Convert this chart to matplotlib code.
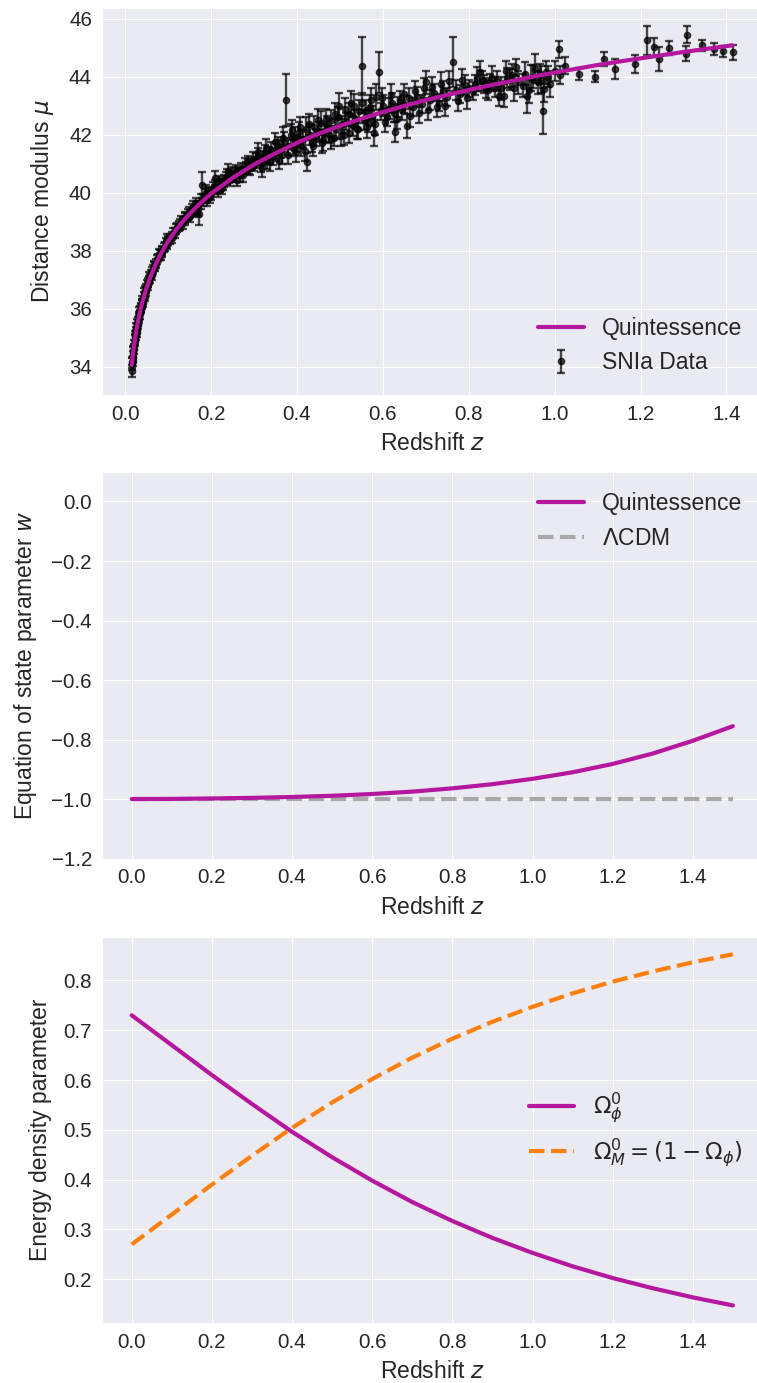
import numpy as np
import matplotlib
matplotlib.use('Agg')
import matplotlib.pyplot as plt
import seaborn as sns

sns.set_style('darkgrid')
plt.rcParams['font.family'] = ['Liberation Sans', 'DejaVu Sans']

# SNIa data (redshift, distance modulus, error)
z_sn = [0.015, 0.016, 0.017, 0.018, 0.019, 0.021, 0.022, 0.023, 0.024, 0.025,
        0.026, 0.027, 0.028, 0.029, 0.031, 0.032, 0.033, 0.034, 0.036, 0.037,
        0.038, 0.040, 0.041, 0.043, 0.045, 0.047, 0.049, 0.051, 0.053, 0.055,
        0.058, 0.060, 0.063, 0.065, 0.068, 0.070, 0.074, 0.077, 0.080, 0.083,
        0.086, 0.090, 0.094, 0.097, 0.100,
        0.105, 0.110, 0.115, 0.120, 0.125, 0.130, 0.135, 0.140, 0.145, 0.150,
        0.155, 0.160, 0.165, 0.170, 0.172, 0.178, 0.180, 0.185, 0.190, 0.195,
        0.200, 0.205, 0.210, 0.215, 0.220, 0.225, 0.230, 0.235, 0.240, 0.245,
        0.250, 0.255, 0.260, 0.265, 0.270, 0.275, 0.280, 0.285, 0.290, 0.295,
        0.300,
        0.305, 0.310, 0.315, 0.320, 0.325, 0.330, 0.335, 0.340, 0.345, 0.350,
        0.355, 0.360, 0.365, 0.370, 0.374, 0.380, 0.385, 0.390, 0.395, 0.400,
        0.405, 0.410, 0.415, 0.420, 0.424, 0.430, 0.435, 0.440, 0.445, 0.450,
        0.455, 0.460, 0.465, 0.470, 0.475, 0.480, 0.485, 0.490, 0.495, 0.498,
        0.505, 0.510, 0.515, 0.520, 0.525, 0.530, 0.535, 0.540, 0.545, 0.551,
        0.556, 0.560, 0.565, 0.570, 0.575, 0.580, 0.585, 0.591, 0.595, 0.600,
        0.610, 0.615, 0.620, 0.625, 0.629, 0.635, 0.640, 0.645, 0.650, 0.657,
        0.660, 0.670, 0.680, 0.690, 0.700, 0.710, 0.720, 0.730, 0.740, 0.750,
        0.764, 0.770, 0.780, 0.790, 0.800,
        0.810, 0.818, 0.827, 0.835, 0.840, 0.850, 0.860, 0.871, 0.881, 0.886,
        0.895, 0.905, 0.910, 0.925, 0.935, 0.945, 0.954, 0.960, 0.965, 0.972,
        0.975, 0.985, 1.000, 1.011, 1.013, 1.023, 1.057, 1.094, 1.115, 1.140,
        1.188, 1.215, 1.232, 1.242, 1.266, 1.305, 1.308, 1.344, 1.372, 1.393,
        1.415]
mu_sn = [33.85, 34.15, 34.20, 34.50, 34.50, 34.75, 34.95, 34.90, 35.20, 35.10,
         35.35, 35.30, 35.50, 35.45, 35.75, 35.65, 35.90, 35.80, 36.05, 36.00,
         36.20, 36.30, 36.20, 36.45, 36.40, 36.65, 36.70, 36.85, 36.80, 37.00,
         37.05, 37.20, 37.30, 37.35, 37.50, 37.45, 37.70, 37.75, 37.85, 37.85,
         38.00, 38.10, 38.25, 38.20, 38.35,
         38.40, 38.60, 38.60, 38.80, 38.85, 39.00, 38.95, 39.15, 39.25, 39.20,
         39.40, 39.35, 39.60, 39.45, 39.25, 40.25, 39.75, 39.90, 39.75, 40.00,
         39.95, 40.15, 40.50, 40.05, 40.25, 40.15, 40.40, 40.50, 40.75, 40.45,
         40.55, 40.60, 40.45, 40.70, 40.80, 40.60, 40.85, 41.05, 40.85, 41.00,
         40.95,
         41.10, 41.25, 41.00, 41.20, 41.35, 41.10, 41.30, 41.45, 41.25, 41.40,
         41.60, 41.50, 41.30, 41.75, 43.20, 41.60, 42.00, 41.55, 41.90, 41.70,
         42.10, 41.60, 41.85, 42.20, 41.05, 42.00, 41.70, 42.25, 41.90, 42.10,
         42.40, 41.80, 42.05, 42.30, 42.00, 42.50, 41.90, 42.20, 42.60, 43.00,
         42.35, 42.00, 42.45, 42.70, 43.10, 42.30, 42.55, 42.20, 42.80, 44.35,
         42.50, 42.85, 42.40, 42.95, 42.65, 42.07, 43.30, 44.15, 42.80, 43.00,
         42.60, 42.90, 43.10, 42.75, 42.10, 42.95, 43.20, 42.85, 43.05, 42.30,
         43.25, 42.95, 43.30, 43.05, 43.80, 43.20, 43.45, 43.10, 43.50, 43.30,
         44.50, 43.55, 43.40, 43.70, 43.60,
         43.50, 43.92, 44.15, 43.75, 43.60, 43.80, 43.65, 43.34, 43.34, 44.20,
         43.90, 43.62, 44.32, 43.69, 43.34, 43.95, 44.27, 43.80, 44.10, 42.82,
         43.57, 44.00, 44.20, 44.94, 44.06, 44.38, 44.09, 44.00, 44.61, 44.27,
         44.44, 45.25, 45.02, 44.61, 44.98, 44.79, 45.45, 45.08, 44.96, 44.87,
         44.84]
err_sn = [0.22, 0.20, 0.18, 0.20, 0.18, 0.17, 0.18, 0.20, 0.16, 0.17,
          0.16, 0.17, 0.16, 0.15, 0.15, 0.16, 0.15, 0.15, 0.15, 0.16,
          0.14, 0.15, 0.15, 0.14, 0.15, 0.14, 0.15, 0.14, 0.15, 0.14,
          0.15, 0.14, 0.15, 0.14, 0.15, 0.16, 0.15, 0.15, 0.16, 0.16,
          0.15, 0.16, 0.17, 0.16, 0.17,
          0.16, 0.17, 0.18, 0.17, 0.18, 0.18, 0.20, 0.18, 0.20, 0.20,
          0.20, 0.20, 0.20, 0.25, 0.35, 0.45, 0.20, 0.22, 0.22, 0.20,
          0.22, 0.20, 0.25, 0.20, 0.22, 0.20, 0.22, 0.20, 0.25, 0.22,
          0.20, 0.25, 0.22, 0.20, 0.22, 0.25, 0.20, 0.22, 0.25, 0.20,
          0.22,
          0.25, 0.30, 0.28, 0.25, 0.30, 0.30, 0.28, 0.30, 0.30, 0.30,
          0.32, 0.30, 0.30, 0.35, 0.90, 0.30, 0.35, 0.30, 0.35, 0.30,
          0.35, 0.32, 0.30, 0.40, 0.30, 0.35, 0.30, 0.40, 0.30, 0.35,
          0.40, 0.35, 0.30, 0.35, 0.30, 0.35, 0.30, 0.35, 0.35, 0.45,
          0.30, 0.35, 0.30, 0.40, 0.40, 0.35, 0.30, 0.35, 0.40, 1.00,
          0.35, 0.35, 0.30, 0.40, 0.35, 0.45, 0.45, 0.70, 0.30, 0.35,
          0.30, 0.35, 0.35, 0.30, 0.35, 0.35, 0.30, 0.35, 0.30, 0.40,
          0.35, 0.30, 0.35, 0.30, 0.40, 0.35, 0.30, 0.30, 0.35, 0.30,
          0.85, 0.35, 0.30, 0.35, 0.30,
          0.30, 0.40, 0.40, 0.30, 0.35, 0.30, 0.35, 0.35, 0.40, 0.35,
          0.35, 0.45, 0.30, 0.40, 0.60, 0.45, 0.50, 0.40, 0.35, 0.80,
          0.45, 0.35, 0.35, 0.30, 0.30, 0.30, 0.20, 0.20, 0.25, 0.35,
          0.30, 0.50, 0.30, 0.40, 0.25, 0.25, 0.30, 0.20, 0.20, 0.20,
          0.25]

# more supernovae filling the dense parts of the cloud
z_sn2 = [0.0155, 0.0175, 0.0205, 0.0235, 0.0265, 0.030, 0.035, 0.039, 0.044, 0.048,
         0.052, 0.056, 0.062, 0.066, 0.072, 0.078, 0.085, 0.092, 0.098,
         0.108, 0.118, 0.128, 0.138, 0.148, 0.158, 0.168, 0.176, 0.188, 0.198,
         0.208, 0.218, 0.228, 0.238, 0.248, 0.258, 0.268, 0.278, 0.288, 0.298,
         0.308, 0.318, 0.328, 0.338, 0.348, 0.358, 0.368, 0.378, 0.388, 0.398,
         0.408, 0.418, 0.428, 0.438, 0.448, 0.458, 0.468, 0.478, 0.488, 0.502,
         0.512, 0.522, 0.532, 0.542, 0.552, 0.562, 0.572, 0.582, 0.598, 0.605,
         0.618, 0.632, 0.648, 0.662, 0.675, 0.685, 0.695, 0.705, 0.715, 0.725,
         0.735, 0.745, 0.755, 0.775, 0.785, 0.795,
         0.815, 0.830, 0.845, 0.855, 0.865, 0.875, 0.890, 0.900, 0.915, 0.930,
         0.940, 0.950, 0.968, 0.980, 0.990]
mu_sn2 = [34.10, 34.35, 34.60, 35.05, 35.20, 35.55, 35.95, 36.15, 36.55, 36.60,
          36.90, 37.10, 37.15, 37.45, 37.55, 37.90, 37.95, 38.15, 38.40,
          38.45, 38.75, 38.90, 39.10, 39.30, 39.50, 39.50, 39.70, 40.00, 39.85,
          40.20, 40.35, 40.30, 40.55, 40.65, 40.75, 40.60, 40.95, 40.90, 41.15,
          41.40, 40.85, 41.55, 41.05, 41.75, 41.10, 41.90, 41.30, 42.15, 41.40,
          42.25, 41.45, 42.35, 41.60, 42.50, 41.70, 42.55, 41.85, 42.70, 41.95,
          42.90, 42.05, 43.00, 42.20, 43.10, 42.25, 43.20, 42.35, 43.25, 42.45,
          43.35, 42.55, 43.40, 42.65, 43.50, 42.75, 43.60, 42.85, 43.65, 42.95,
          43.75, 43.00, 43.85, 43.15, 43.90, 43.25,
          43.70, 43.85, 43.55, 43.95, 43.85, 43.60, 43.95, 44.05, 43.80, 44.10,
          43.55, 44.00, 43.90, 44.15, 43.75]
err_sn2 = [0.20, 0.20, 0.18, 0.17, 0.16, 0.16, 0.15, 0.15, 0.15, 0.15,
           0.15, 0.15, 0.15, 0.15, 0.15, 0.16, 0.16, 0.16, 0.17,
           0.18, 0.18, 0.18, 0.20, 0.20, 0.20, 0.22, 0.25, 0.25, 0.22,
           0.22, 0.22, 0.22, 0.25, 0.22, 0.22, 0.25, 0.25, 0.25, 0.25,
           0.30, 0.30, 0.30, 0.30, 0.30, 0.30, 0.35, 0.30, 0.35, 0.35,
           0.35, 0.35, 0.35, 0.35, 0.40, 0.35, 0.35, 0.35, 0.40, 0.35,
           0.35, 0.35, 0.40, 0.35, 0.35, 0.35, 0.40, 0.35, 0.35, 0.35,
           0.40, 0.35, 0.35, 0.40, 0.35, 0.35, 0.35, 0.35, 0.35, 0.35,
           0.40, 0.35, 0.35, 0.35, 0.35, 0.35,
           0.35, 0.35, 0.35, 0.40, 0.35, 0.40, 0.35, 0.40, 0.40, 0.40,
           0.45, 0.40, 0.45, 0.40, 0.45]

# best-fit quintessence distance modulus
z_fit = [0.015, 0.02, 0.025, 0.03, 0.035, 0.04, 0.045, 0.05, 0.06, 0.07,
         0.08, 0.09, 0.10, 0.12, 0.14, 0.15, 0.17, 0.20, 0.25, 0.30,
         0.35, 0.40, 0.45, 0.50, 0.55, 0.60, 0.65, 0.70, 0.75, 0.80,
         0.85, 0.90, 0.95, 1.00, 1.05, 1.10, 1.15, 1.20, 1.25, 1.30,
         1.35, 1.414]
mu_fit = [34.06, 34.70, 35.19, 35.60, 35.94, 36.24, 36.50, 36.74, 37.15, 37.50,
          37.81, 38.08, 38.33, 38.75, 39.11, 39.27, 39.57, 39.97, 40.51, 40.97,
          41.36, 41.72, 42.03, 42.30, 42.55, 42.78, 42.99, 43.19, 43.37, 43.54,
          43.70, 43.85, 44.00, 44.14, 44.27, 44.40, 44.52, 44.63, 44.74, 44.85,
          44.95, 45.08]

# equation of state and density parameters
z_grid = [0.0, 0.1, 0.2, 0.3, 0.4, 0.5, 0.6, 0.7, 0.8, 0.9, 1.0, 1.1, 1.2, 1.3, 1.4, 1.5]
w_phi = [-1.0, -0.9995, -0.998, -0.996, -0.993, -0.989, -0.983, -0.975, -0.964,
         -0.950, -0.932, -0.910, -0.882, -0.847, -0.804, -0.755]
w_lcdm = [-1.0] * len(z_grid)
omega_phi = [0.730, 0.670, 0.610, 0.552, 0.496, 0.445, 0.398, 0.355, 0.317,
             0.283, 0.253, 0.226, 0.2025, 0.182, 0.1636, 0.1475]
omega_m = [0.270, 0.330, 0.390, 0.448, 0.504, 0.555, 0.602, 0.645, 0.683,
           0.717, 0.747, 0.774, 0.7975, 0.818, 0.8364, 0.8525]

purple = '#b5179e'
tick_fs = 14.8
label_fs = 16.5
legend_fs = 16.5

fig = plt.figure(figsize=(7.57, 13.83), dpi=100)
left, width = 0.1343, 0.8736
ax1 = fig.add_axes([left, 0.7144, width, 0.2796])
ax2 = fig.add_axes([left, 0.3792, width, 0.2797])
ax3 = fig.add_axes([left, 0.0434, width, 0.2793])

# top panel: Hubble diagram
ax1.errorbar(z_sn + z_sn2, mu_sn + mu_sn2, yerr=err_sn + err_sn2, fmt='o',
             color='black', alpha=0.7, markersize=4.5, capsize=3,
             elinewidth=1.7, capthick=1.7, label='SNIa Data', zorder=2)
ax1.plot(z_fit, mu_fit, color=purple, lw=3, label='Quintessence', zorder=3)
ax1.set_ylabel(r'Distance modulus $\mu$', fontsize=label_fs, labelpad=9)
ax1.legend(loc='lower right', fontsize=legend_fs, frameon=False)

# middle panel: w(z)
ax2.plot(z_grid, w_phi, color=purple, lw=3, label='Quintessence', zorder=3)
ax2.plot(z_grid, w_lcdm, color='darkgray', lw=3, ls='--', label=r'$\Lambda$CDM',
         zorder=2)
ax2.set_ylim(-1.2, 0.1)
ax2.set_ylabel(r'Equation of state parameter $w$', fontsize=label_fs, labelpad=9)
ax2.legend(loc='upper right', fontsize=legend_fs, frameon=False)

# bottom panel: density parameters
ax3.plot(z_grid, omega_phi, color=purple, lw=3, label=r'$\Omega_\phi^0$')
ax3.plot(z_grid, omega_m, color='#ff7f0e', lw=3, ls='--',
         label=r'$\Omega_M^0 = (1-\Omega_\phi)$')
ax3.set_ylabel('Energy density parameter', fontsize=label_fs, labelpad=8)
ax3.legend(loc='center right', fontsize=legend_fs, frameon=False)

for ax in (ax1, ax2, ax3):
    ax.set_xlabel(r'Redshift $z$', fontsize=label_fs, labelpad=6)
    ax.tick_params(labelsize=tick_fs)

fig.savefig('out.png', dpi=100)
